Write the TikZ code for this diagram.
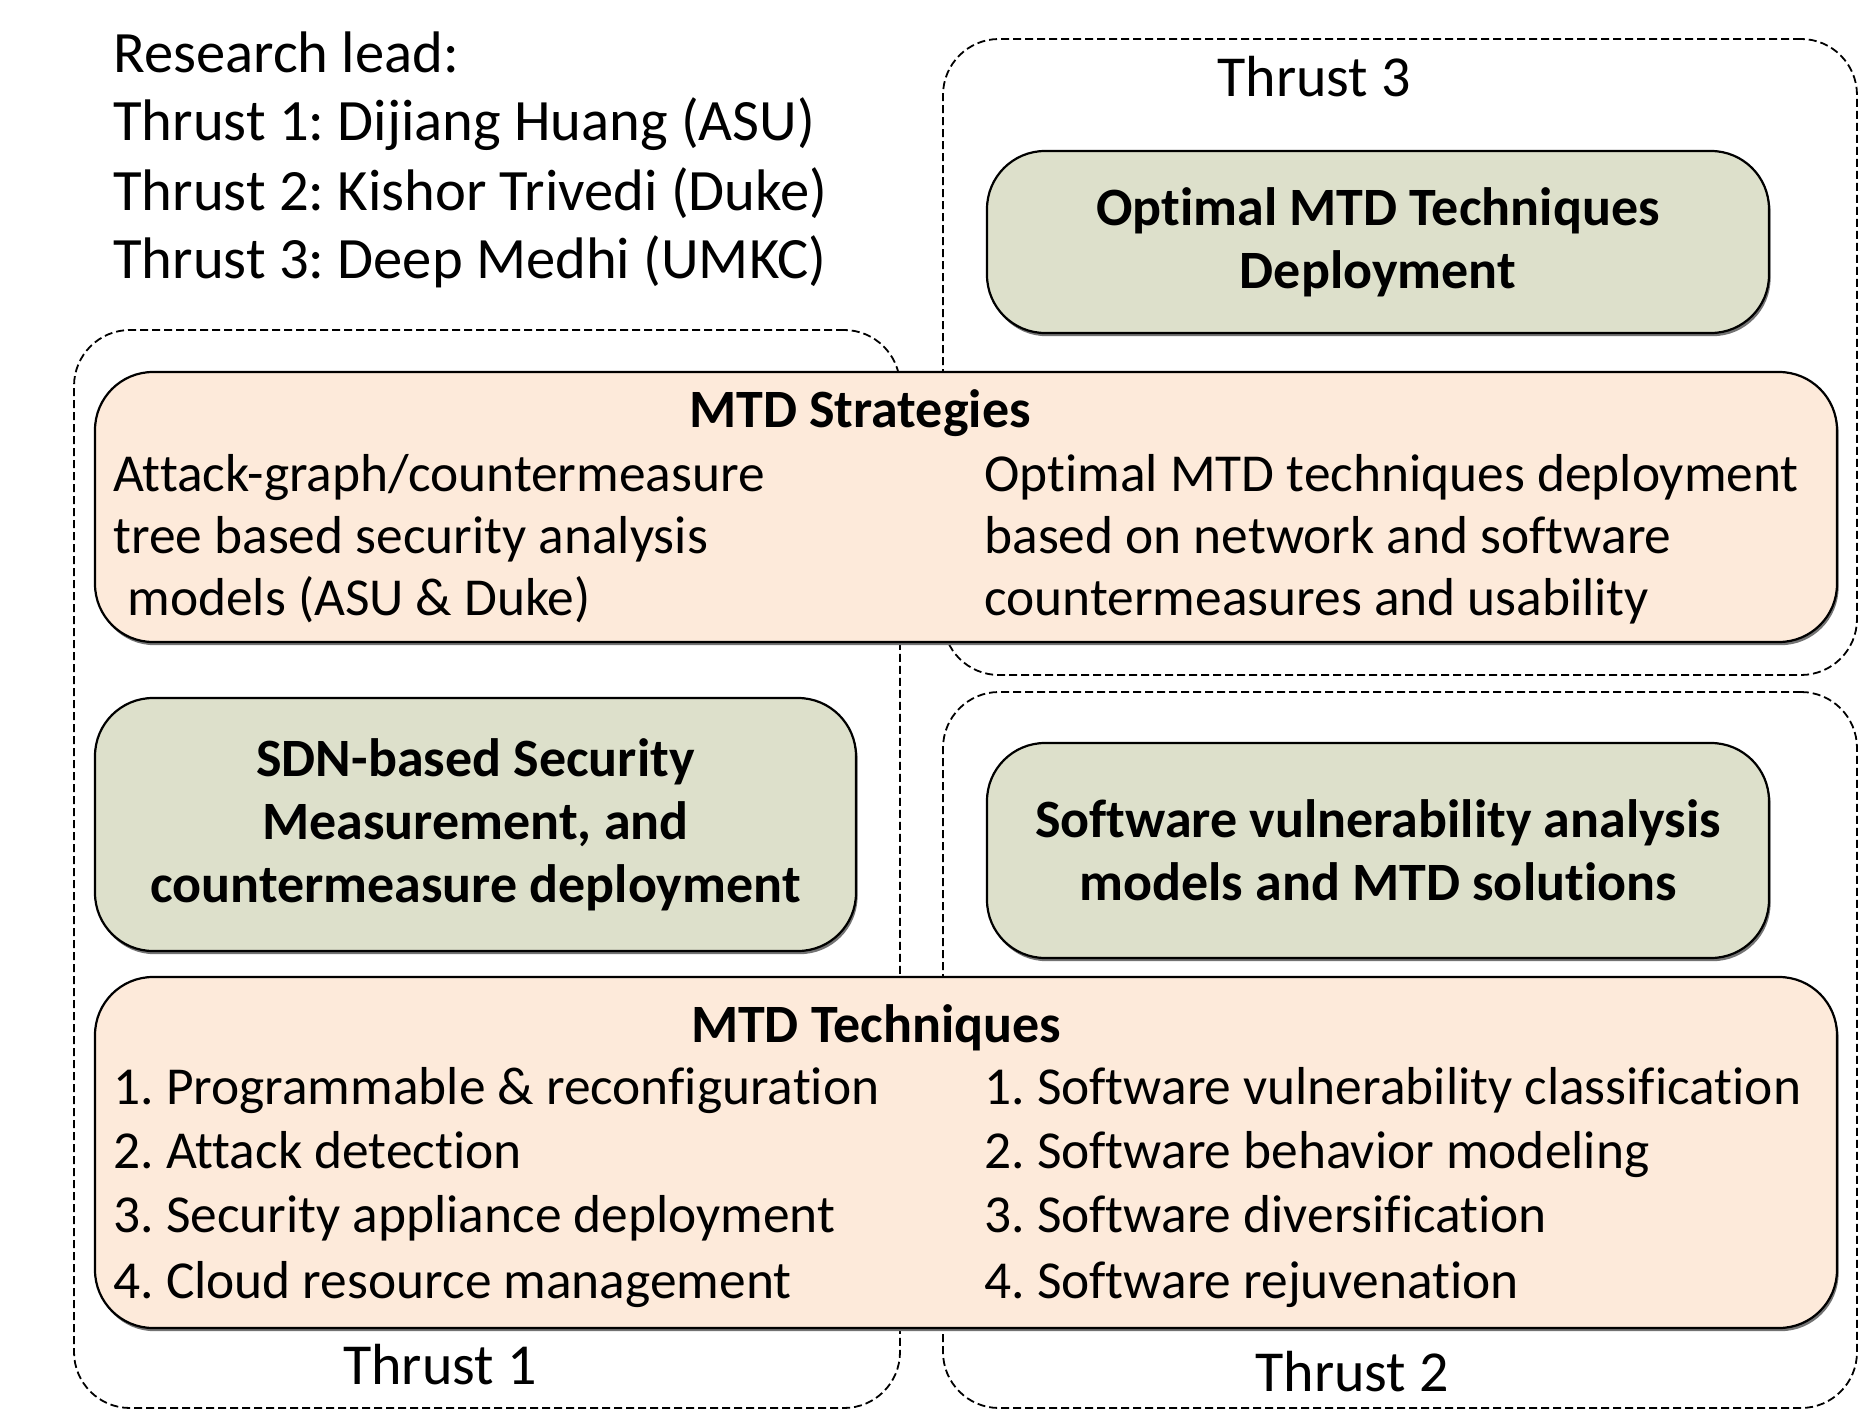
\documentclass[tikz,border=0pt]{standalone}
\usepackage{fontspec}
\setmainfont[Ligatures=NoCommon]{Carlito}
\frenchspacing
\usetikzlibrary{shadows}
\definecolor{salmonfill}{RGB}{253,234,218}
\definecolor{sagefill}{RGB}{221,224,203}
\begin{document}
\begin{tikzpicture}[x=0.5pt,y=-0.5pt,
  txt/.style={font=\fontsize{26.7}{32}\selectfont, inner sep=0pt, anchor=base west},
  htxt/.style={font=\fontsize{29.3}{34}\selectfont, inner sep=0pt, anchor=base west},
  ctxt/.style={font=\fontsize{29}{34}\selectfont, inner sep=0pt, anchor=base},
  btxt/.style={font=\bfseries\fontsize{27}{32}\selectfont, inner sep=0pt, anchor=base},
  tbox/.style={draw, line width=0.9pt, dash pattern=on 4pt off 2pt, rounded corners=28pt, inner sep=0pt},
  boxshadow/.style={drop shadow={shadow xshift=0.8pt, shadow yshift=-1.6pt, fill=black!55, opacity=1}},
  sbox/.style={draw, line width=1.1pt, fill=salmonfill, rounded corners=29pt, inner sep=0pt, boxshadow},
  gbox/.style={draw, line width=1.1pt, fill=sagefill, rounded corners=29pt, inner sep=0pt, boxshadow,
    align=center, font=\bfseries\fontsize{27}{31.5}\selectfont},
]
\path[use as bounding box] (0,0) rectangle (1864,1412);

% thrust regions
\node[tbox, minimum width=413pt, minimum height=539pt] (t1) at (487,869) {};
\node[tbox, minimum width=457pt, minimum height=318pt] (t3) at (1400,357) {};
\node[tbox, minimum width=457pt, minimum height=358pt] (t2) at (1400,1050) {};

% header
\node[htxt] (hdr0) at (113,73) {Research lead:};
\node[htxt] (hdr1) at (113,141) {Thrust 1: Dijiang Huang (ASU)};
\node[htxt] (hdr2) at (113,211) {Thrust 2: Kishor Trivedi (Duke)};
\node[htxt] (hdr3) at (113,279) {Thrust 3: Deep Medhi (UMKC)};

\node[ctxt] (lbl3) at (1314,97) {Thrust 3};
\node[ctxt] (lbl1) at (440,1384) {Thrust 1};
\node[ctxt] (lbl2) at (1352,1391) {Thrust 2};

% green boxes
\node[gbox, minimum width=391pt, minimum height=91pt] (opt) at (1378,242) {Optimal MTD Techniques\\Deployment};
\node[gbox, minimum width=380.5pt, minimum height=126.5pt] (sdn) at (475.5,824.5) {SDN-based Security\\Measurement, and\\countermeasure deployment};
\node[gbox, minimum width=391pt, minimum height=107.5pt] (soft) at (1378,850.5) {Software vulnerability analysis\\models and MTD solutions};

% MTD strategies
\node[sbox, minimum width=871pt, minimum height=135pt] (strat) at (966,507) {};
\node[btxt] (stratT) at (860,427) {MTD Strategies};
\node[txt] (sl1) at (113,491) {Attack-graph/countermeasure};
\node[txt] (sl2) at (113,553) {tree based security analysis};
\node[txt] (sl3) at (127,615) {models (ASU \& Duke)};
\node[txt] (sr1) at (984,491) {Optimal MTD techniques deployment};
\node[txt] (sr2) at (984,553) {based on network and software};
\node[txt] (sr3) at (984,615) {countermeasures and usability};

% MTD techniques
\node[sbox, minimum width=871pt, minimum height=175.5pt] (tech) at (966,1152.5) {};
\node[btxt] (techT) at (876,1042) {MTD Techniques};
\node[txt] (tl1) at (113,1104) {1. Programmable \& reconfiguration};
\node[txt] (tl2) at (113,1168) {2. Attack detection};
\node[txt] (tl3) at (113,1232) {3. Security appliance deployment};
\node[txt] (tl4) at (113,1298) {4. Cloud resource management};
\node[txt] (tr1) at (984,1104) {1. Software vulnerability classification};
\node[txt] (tr2) at (984,1168) {2. Software behavior modeling};
\node[txt] (tr3) at (984,1232) {3. Software diversification};
\node[txt] (tr4) at (984,1298) {4. Software rejuvenation};
\end{tikzpicture}
\end{document}
